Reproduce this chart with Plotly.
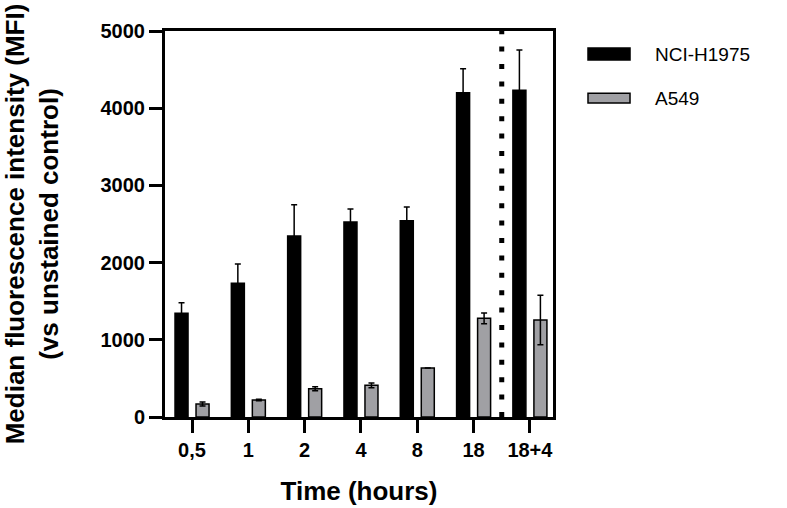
import plotly.graph_objects as go

categories = ["0,5", "1", "2", "4", "8", "18", "18+4"]
series_names = ["NCI-H1975", "A549"]
nci_mean = [1343, 1732, 2345, 2526, 2543, 4201, 4231]
nci_sd = [138, 250, 405, 168, 177, 311, 523]
a549_mean = [168, 220, 367, 410, 635, 1278, 1256]
a549_sd = [26, 10, 26, 30, 0, 70, 320]
y_ticks = [0, 1000, 2000, 3000, 4000, 5000]
colors = ["#000000", "#A0A0A4"]

FONT = "Liberation Sans, Arial, sans-serif"

fig = go.Figure()
for name, mean, sd, col, off in [
    (series_names[0], nci_mean, nci_sd, colors[0], -0.302),
    (series_names[1], a549_mean, a549_sd, colors[1], 0.071),
]:
    fig.add_trace(go.Bar(
        x=categories, y=mean, name=name,
        width=0.231, offset=off,
        marker=dict(color=col, line=dict(color="black", width=1.5)),
        error_y=dict(type="data", array=sd, visible=True, color="black",
                     thickness=1.5, width=3),
        showlegend=False,
    ))

# dotted separator between the last two groups
sep_x = len(categories) - 1.5
fig.add_shape(type="line", xref="x", yref="paper", x0=sep_x, x1=sep_x, y0=0, y1=1,
              line=dict(color="black", width=5, dash="5px,12.4px"))

# manual legend
leg = [(0.956, 0.925, 0.940), (0.839, 0.8135, 0.826)]
for (y1, y0, yt), name, col in zip(leg, series_names, colors):
    fig.add_shape(type="rect", xref="paper", yref="paper", x0=1.0902, x1=1.1985,
                  y0=y0, y1=y1, fillcolor=col, line=dict(color="black", width=1.5))
    fig.add_annotation(xref="paper", yref="paper", x=1.2577, y=yt, text=name,
                       showarrow=False, xanchor="left", yanchor="middle",
                       font=dict(family=FONT, size=19, color="black"))

fig.update_layout(
    width=787, height=508, autosize=False,
    margin=dict(l=165, r=234, t=31, b=91),
    paper_bgcolor="white", plot_bgcolor="white",
    barmode="group",
    font=dict(family=FONT, color="black"),
)
fig.update_xaxes(
    type="category", range=[-0.48, 6.41], automargin=False,
    showline=True, linecolor="black", linewidth=3, mirror=True,
    ticks="outside", ticklen=13, tickwidth=3, tickcolor="black",
    tickfont=dict(family=FONT, size=20, color="black", weight="bold"),
    title=dict(text="<b>Time (hours)</b>", font=dict(family=FONT, size=26), standoff=22),
    showgrid=False, zeroline=False,
)
fig.update_yaxes(
    range=[0, 5000], tickvals=y_ticks, ticktext=[str(v) for v in y_ticks],
    automargin=False,
    showline=True, linecolor="black", linewidth=3, mirror=True,
    ticks="outside", ticklen=13, tickwidth=3, tickcolor="black",
    tickfont=dict(family=FONT, size=20, color="black", weight="bold"),
    title=dict(text="<b>Median fluorescence intensity (MFI)<br>(vs unstained control)</b>",
               font=dict(family=FONT, size=26), standoff=40),
    showgrid=False, zeroline=False,
)

fig.write_html("out.html")
